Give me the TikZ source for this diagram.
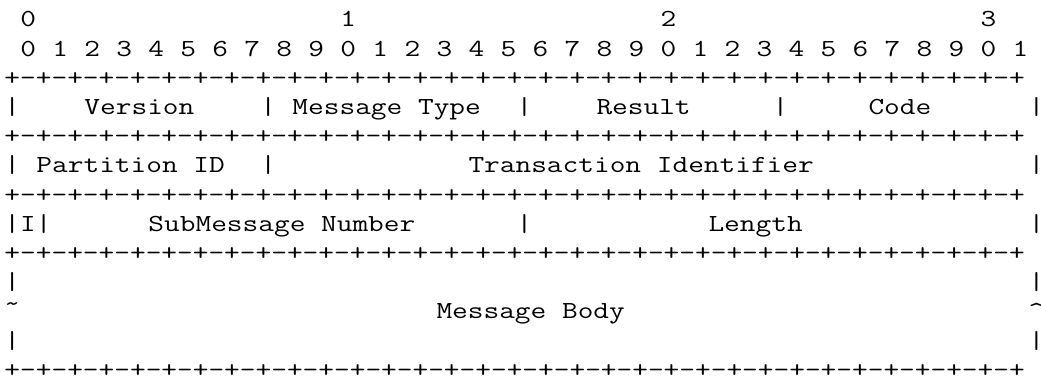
\documentclass[tikz,border=0pt]{standalone}
\usepackage{tikz}

% one row of bit ticks, 65 characters wide
\newcommand{\bitrule}{+-+-+-+-+-+-+-+-+-+-+-+-+-+-+-+-+-+-+-+-+-+-+-+-+-+-+-+-+-+-+-+-+}
% typewriter text widened to a 16pt character cell
\newcommand{\widett}[1]{\scalebox{1.244}[1]{#1}}

\tikzset{
  cell/.style={anchor=base west, inner sep=0pt, outer sep=0pt,
    font=\fontsize{24.5}{29.2}\selectfont\ttfamily},
}

\begin{document}
\begin{tikzpicture}[x=16pt, y=-29.2pt]

\useasboundingbox (0,0) rectangle (65.06,12.877);

% bit numbers
\node[cell] (ten0) at (1.28,0.918) {\widett{0}};
\node[cell] (ten1) at (21.28,0.918) {\widett{1}};
\node[cell] (ten2) at (41.28,0.918) {\widett{2}};
\node[cell] (ten3) at (61.28,0.918) {\widett{3}};
\foreach \d [count=\i from 0] in {0,1,2,3,4,5,6,7,8,9,0,1,2,3,4,5,6,7,8,9,0,1,2,3,4,5,6,7,8,9,0,1}
  \node[cell] (unit\i) at (1.28+2*\i,1.918) {\widett{\d}};

% word 1
\node[cell] (rule1) at (0.28,2.918) {\widett{\bitrule}};
\node[cell] (bar1a) at (0.28,3.918) {\widett{|}};
\node[cell] (version) at (5.28,3.918) {\widett{Version}};
\node[cell] (bar1b) at (16.28,3.918) {\widett{|}};
\node[cell] (msgtype) at (18.28,3.918) {\widett{Message Type}};
\node[cell] (bar1c) at (32.28,3.918) {\widett{|}};
\node[cell] (result) at (37.28,3.918) {\widett{Result}};
\node[cell] (bar1d) at (48.28,3.918) {\widett{|}};
\node[cell] (code) at (54.28,3.918) {\widett{Code}};
\node[cell] (bar1e) at (64.28,3.918) {\widett{|}};

% word 2
\node[cell] (rule2) at (0.28,4.918) {\widett{\bitrule}};
\node[cell] (bar2a) at (0.28,5.918) {\widett{|}};
\node[cell] (partid) at (2.28,5.918) {\widett{Partition ID}};
\node[cell] (bar2b) at (16.28,5.918) {\widett{|}};
\node[cell] (transid) at (29.28,5.918) {\widett{Transaction Identifier}};
\node[cell] (bar2c) at (64.28,5.918) {\widett{|}};

% word 3
\node[cell] (rule3) at (0.28,6.918) {\widett{\bitrule}};
\node[cell] (iflag) at (0.28,7.918) {\widett{|I|}};
\node[cell] (submsg) at (9.28,7.918) {\widett{SubMessage Number}};
\node[cell] (bar3b) at (32.28,7.918) {\widett{|}};
\node[cell] (length) at (44.28,7.918) {\widett{Length}};
\node[cell] (bar3c) at (64.28,7.918) {\widett{|}};

% body
\node[cell] (rule4) at (0.28,8.918) {\widett{\bitrule}};
\node[cell] (bar4a) at (0.28,9.918) {\widett{|}};
\node[cell] (bar4b) at (64.28,9.918) {\widett{|}};
\node[cell] (cutl) at (0.28,10.918) {\widett{\raisebox{7pt}{\textasciitilde}}};
\node[cell] (body) at (27.28,10.918) {\widett{Message Body}};
\node[cell] (cutr) at (64.28,10.918) {\widett{\textasciicircum}};
\node[cell] (bar5a) at (0.28,11.918) {\widett{|}};
\node[cell] (bar5b) at (64.28,11.918) {\widett{|}};
\node[cell] (rule5) at (0.28,12.918) {\widett{\bitrule}};

\end{tikzpicture}
\end{document}
